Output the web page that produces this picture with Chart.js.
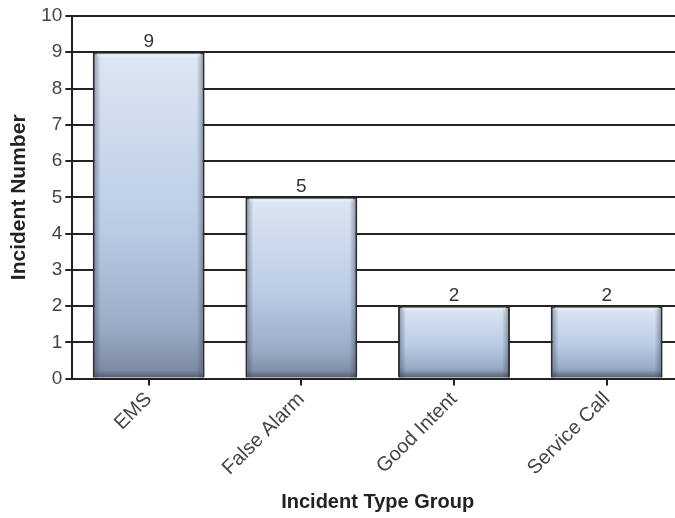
<!DOCTYPE html>
<html>
<head>
<meta charset="utf-8">
<script src="https://cdn.jsdelivr.net/npm/chart.js@4"></script>
<style>
html,body{margin:0;padding:0;background:#fff;overflow:hidden;}
#wrap{width:686px;height:518px;position:relative;}
</style>
</head>
<body>
<div id="wrap"><canvas id="c" width="686" height="518"></canvas></div>
<script>
const categories = ['EMS', 'False Alarm', 'Good Intent', 'Service Call'];
const incidentCounts = [9, 5, 2, 2];
const yTicks = [0, 1, 2, 3, 4, 5, 6, 7, 8, 9, 10];
const xTitle = 'Incident Type Group';
const yTitle = 'Incident Number';

const FONT = '"Liberation Sans", Arial, sans-serif';

function barGradient(context) {
  const chart = context.chart;
  if (!chart.chartArea || !chart.scales.y) return '#b8c9e1';
  const ys = chart.scales.y;
  const top = ys.getPixelForValue(context.raw);
  const bottom = ys.getPixelForValue(0);
  const g = chart.ctx.createLinearGradient(0, top, 0, bottom);
  g.addColorStop(0, '#dde7f3');
  g.addColorStop(0.55, '#b9cbe4');
  g.addColorStop(0.85, '#98aac5');
  g.addColorStop(1, '#76849b');
  return g;
}

const bevelPlugin = {
  id: 'bevel',
  afterDatasetsDraw(chart) {
    const c = chart.ctx;
    const meta = chart.getDatasetMeta(0);
    meta.data.forEach((bar) => {
      const p = bar.getProps(['x', 'y', 'base', 'width'], true);
      const l = p.x - p.width / 2 + 1, r = p.x + p.width / 2 - 1;
      const t = p.y + 1, b = p.base;
      const s = 7;
      c.save();
      let g = c.createLinearGradient(l, 0, l + s, 0);
      g.addColorStop(0, 'rgba(50,60,80,0.45)');
      g.addColorStop(1, 'rgba(50,60,80,0)');
      c.fillStyle = g; c.fillRect(l, t, s, b - t);
      g = c.createLinearGradient(r, 0, r - s, 0);
      g.addColorStop(0, 'rgba(50,60,80,0.45)');
      g.addColorStop(1, 'rgba(50,60,80,0)');
      c.fillStyle = g; c.fillRect(r - s, t, s, b - t);
      g = c.createLinearGradient(0, b, 0, b - s);
      g.addColorStop(0, 'rgba(40,50,70,0.45)');
      g.addColorStop(1, 'rgba(40,50,70,0)');
      c.fillStyle = g; c.fillRect(l, b - s, r - l, s);
      g = c.createLinearGradient(0, t, 0, t + 5);
      g.addColorStop(0, 'rgba(255,255,255,0.5)');
      g.addColorStop(1, 'rgba(255,255,255,0)');
      c.fillStyle = g; c.fillRect(l + 3, t, r - l - 6, 5);
      c.restore();
    });
  }
};

const labelPlugin = {
  id: 'valueLabels',
  afterDatasetsDraw(chart) {
    const c = chart.ctx;
    const meta = chart.getDatasetMeta(0);
    c.save();
    c.font = '19px ' + FONT;
    c.fillStyle = '#333';
    c.textAlign = 'center';
    c.textBaseline = 'bottom';
    meta.data.forEach((bar, i) => {
      c.fillText(String(incidentCounts[i]), bar.x, bar.y - 1);
    });
    c.restore();
  }
};

new Chart(document.getElementById('c'), {
  type: 'bar',
  data: {
    labels: categories,
    datasets: [{
      data: incidentCounts,
      backgroundColor: barGradient,
      borderColor: '#2b2b2b',
      borderWidth: 2,
      borderSkipped: 'start',
      barPercentage: 0.733,
      categoryPercentage: 1.0
    }]
  },
  options: {
    responsive: false,
    animation: false,
    layout: { padding: { top: 16, right: 3, left: 7, bottom: 4 } },
    plugins: { legend: { display: false }, tooltip: { enabled: false } },
    scales: {
      x: {
        grid: { drawOnChartArea: false, drawTicks: true, tickLength: 7, color: '#222', lineWidth: 2, offset: false },
        border: { color: '#222', width: 2 },
        ticks: { maxRotation: 45, minRotation: 45, color: '#444', font: { family: FONT, size: 20 }, padding: 2 },
        title: { display: true, text: xTitle, color: '#222', font: { family: FONT, size: 20, weight: 'bold' }, padding: { top: 8, bottom: 0 } }
      },
      y: {
        min: 0, max: 10,
        afterBuildTicks(axis) { axis.ticks = yTicks.map(v => ({ value: v })); },
        grid: { color: '#222', lineWidth: 2, tickLength: 7 },
        border: { color: '#222', width: 2 },
        ticks: { color: '#444', font: { family: FONT, size: 19 }, padding: 3 },
        title: { display: true, text: yTitle, color: '#222', font: { family: FONT, size: 21, weight: 'bold' }, padding: { top: 0, bottom: 6 } }
      }
    }
  },
  plugins: [bevelPlugin, labelPlugin]
});
</script>
</body>
</html>
